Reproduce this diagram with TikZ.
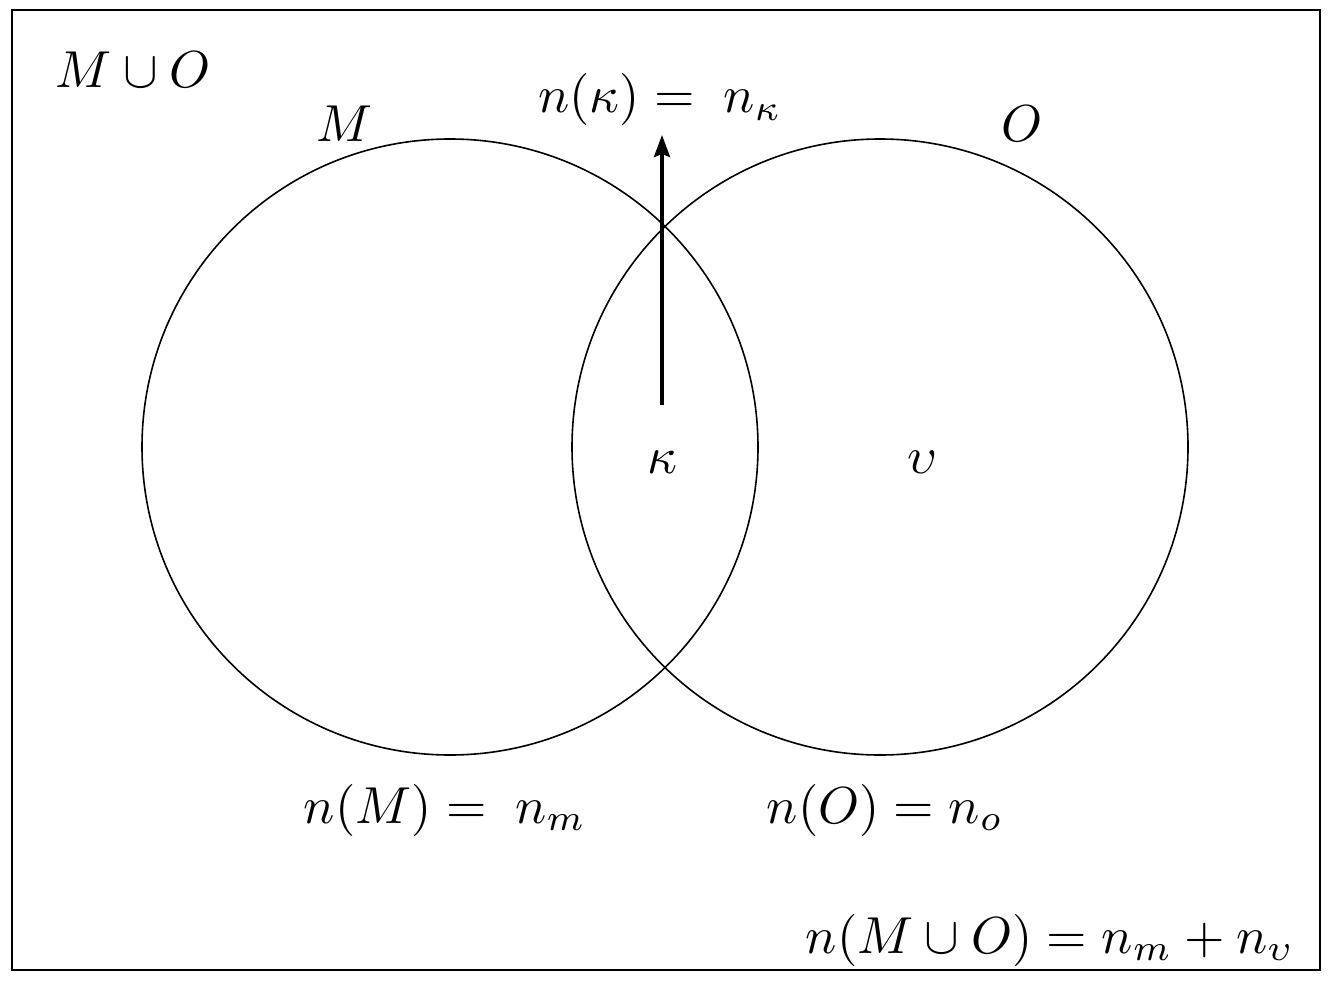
\documentclass[tikz,border=0pt]{standalone}
\usetikzlibrary{arrows.meta}
\begin{document}
\begin{tikzpicture}[x=1pt,y=-1pt,
  lbl/.style={inner sep=0pt,scale=5.2,transform shape},
  setcircle/.style={draw,circle,line width=1.6pt,minimum size=616pt,inner sep=0pt},
  arr/.style={line width=3.4pt,-{Stealth[length=22pt,width=16pt,inset=3pt]}}]
\useasboundingbox (0,0) rectangle (1332,984);
\fill[white] (0,0) rectangle (1332,984);
\node[draw,line width=2.2pt,minimum width=1308pt,minimum height=960pt,inner sep=0pt] (frame) at (666,490) {};
\node[setcircle] (setM) at (450,447) {};
\node[setcircle] (setO) at (880,447) {};
\node[lbl] (union) at (133,70) {$M\cup O$};
\node[lbl] (labM) at (345,124) {$M$};
\node[lbl] (labO) at (1022,124) {$O$};
\node[lbl] (nk) at (660,100) {$n(\kappa) = \; n_\kappa$};
\node[lbl] (kappa) at (662,462) {$\kappa$};
\node[lbl] (ups) at (922,462) {$\upsilon$};
\node[lbl] (nM) at (445,810) {$n(M) = \; n_m$};
\node[lbl] (nO) at (885,810) {$n(O) = n_o$};
\node[lbl] (nMO) at (1050,940) {$n(M\cup O) = n_m + n_\upsilon$};
\coordinate (tail) at (662,405);
\coordinate (tip) at (662,135);
\draw[arr] (tail) -- (tip);
\end{tikzpicture}
\end{document}
